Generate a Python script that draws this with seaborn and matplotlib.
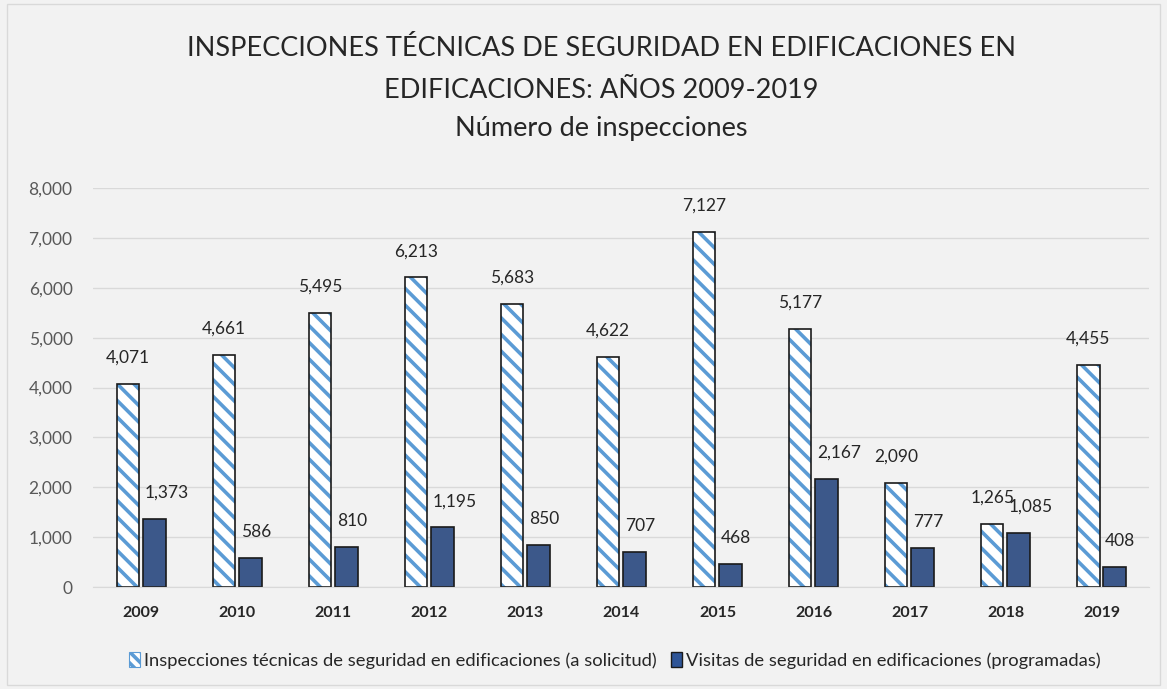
import matplotlib
matplotlib.use("Agg")
import matplotlib.pyplot as plt
import seaborn as sns
import pandas as pd
from matplotlib.colors import to_rgba
from matplotlib.patches import Patch
from matplotlib.ticker import FuncFormatter

years = ["2009", "2010", "2011", "2012", "2013", "2014", "2015", "2016", "2017", "2018", "2019"]
solicitud = [4071, 4661, 5495, 6213, 5683, 4622, 7127, 5177, 2090, 1265, 4455]
programadas = [1373, 586, 810, 1195, 850, 707, 468, 2167, 777, 1085, 408]
series_names = [
    "Inspecciones técnicas de seguridad en edificaciones (a solicitud)",
    "Visitas de seguridad en edificaciones (programadas)",
]

df = pd.DataFrame({
    "Año": years * 2,
    "Serie": [series_names[0]] * len(years) + [series_names[1]] * len(years),
    "Valor": solicitud + programadas,
})

sns.set_style("white")
plt.rcParams["font.family"] = ["Lato", "DejaVu Sans"]
plt.rcParams["hatch.linewidth"] = 2.6
bg = "#f2f2f2"
hatch_blue = "#5b9bd5"
dark_blue = "#2f5597"

fig = plt.figure(figsize=(11.67, 6.89), dpi=100, facecolor=bg)
ax = fig.add_axes([0.080, 0.148, 0.905, 0.579], facecolor=bg)

sns.barplot(data=df, x="Año", y="Valor", hue="Serie", order=years,
            hue_order=series_names, palette=["white", dark_blue],
            width=0.55, gap=0.15, legend=False, ax=ax)

n = len(years)
for i, p in enumerate(ax.patches[:2 * n]):
    p.set_edgecolor("#1a1a1a")
    p.set_linewidth(1.2)
    if i < n:
        p.set_hatch("\\\\")
        p._hatch_color = to_rgba(hatch_blue)

# hatched series: labels centred; dark series: labels start at bar's left edge
for k, container in enumerate(ax.containers):
    texts = ax.bar_label(container, labels=[f"{v:,.0f}" for v in container.datavalues],
                         padding=13, fontsize=12.5, color="#262626")
    if k == 1:
        for t in texts:
            t.set_ha("left")
            t.xyann = (-7, t.xyann[1])

ax.set_ylim(0, 8000)
ax.set_yticks(range(0, 8001, 1000))
ax.yaxis.set_major_formatter(FuncFormatter(lambda v, _: f"{v:,.0f}"))
ax.grid(axis="y", color="#d9d9d9", linewidth=1)
ax.set_axisbelow(True)
for s in ["top", "right", "left"]:
    ax.spines[s].set_visible(False)
ax.spines["bottom"].set_color("#d9d9d9")
ax.tick_params(axis="y", labelsize=12.5, labelcolor="#595959", length=0, pad=15)
ax.tick_params(axis="x", labelsize=11.5, length=0, pad=14)
for lbl in ax.get_xticklabels():
    lbl.set_fontweight("bold")
    lbl.set_color("#262626")
ax.set_xlabel("")
ax.set_ylabel("")
ax.set_xlim(-0.5, n - 0.5)

fig.text(0.515, 0.93, "INSPECCIONES TÉCNICAS DE SEGURIDAD EN EDIFICACIONES EN",
         ha="center", va="center", fontsize=19.5, color="#262626")
fig.text(0.515, 0.869, "EDIFICACIONES: AÑOS 2009-2019",
         ha="center", va="center", fontsize=19.5, color="#262626")
fig.text(0.515, 0.814, "Número de inspecciones",
         ha="center", va="center", fontsize=19.5, color="#262626")

handles = [
    Patch(facecolor="white", edgecolor=hatch_blue, hatch="\\\\\\", linewidth=0.8),
    Patch(facecolor=dark_blue, edgecolor="#1a1a1a"),
]
fig.legend(handles, series_names, loc="center", bbox_to_anchor=(0.527, 0.042),
           ncol=2, frameon=False, fontsize=13.2, handlelength=0.6, handleheight=0.9,
           handletextpad=0.2, columnspacing=0.8, labelcolor="#262626")

fig.patches.append(plt.Rectangle((0.006, 0.006), 0.988, 0.988, transform=fig.transFigure,
                                 fill=False, edgecolor="#d9d9d9", linewidth=1))

fig.savefig("out.png", dpi=100, facecolor=bg)
